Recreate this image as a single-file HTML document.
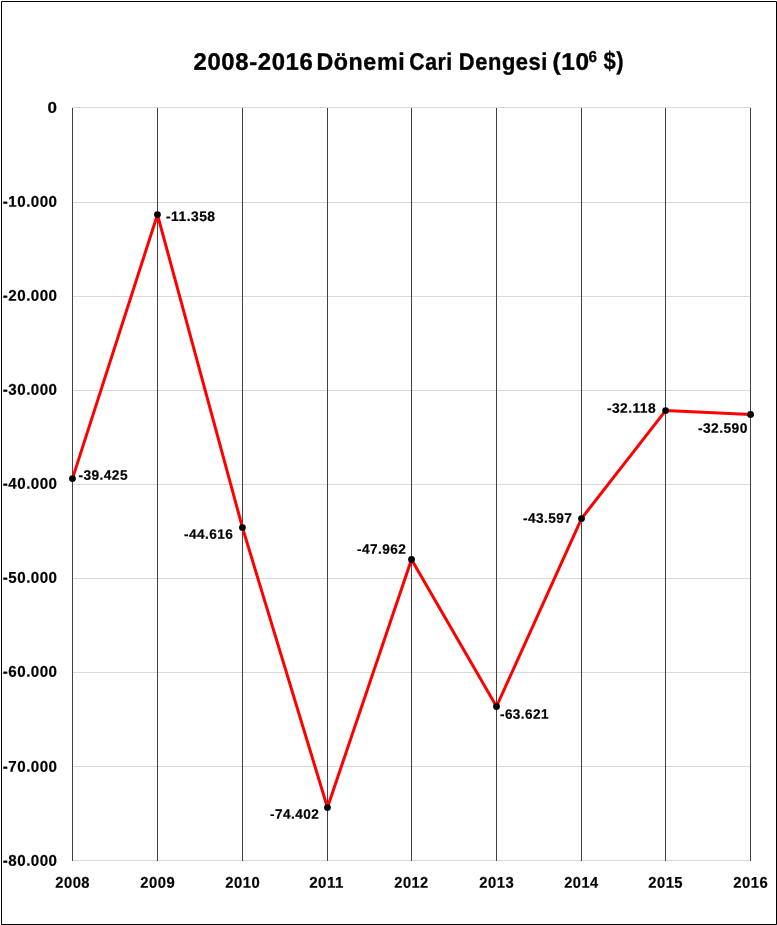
<!DOCTYPE html>
<html lang="tr">
<head>
<meta charset="utf-8">
<title>2008-2016 Dönemi Cari Dengesi</title>
<style>
html,body{margin:0;padding:0;background:#fff;}
body{width:777px;height:925px;overflow:hidden;}
svg{display:block;}
text{font-family:"Liberation Sans",sans-serif;font-weight:bold;fill:#000;stroke:#000;stroke-linejoin:round;}
.ax{font-size:16px;stroke-width:0.2;letter-spacing:0.5px;}
.dl{font-size:14px;stroke-width:0.2;letter-spacing:0.45px;}
.tt{font-size:26px;stroke-width:0.4;letter-spacing:0.7px;}
.ts{font-size:16px;stroke-width:0.3;letter-spacing:0px;}
.tp{font-size:26px;stroke-width:0.3;letter-spacing:0.7px;}
</style>
</head>
<body>
<svg width="777" height="925" viewBox="0 0 777 925">
<rect x="0" y="0" width="777" height="925" fill="#ffffff"/>
<!-- chart frame -->
<rect x="1.5" y="1.5" width="775" height="923" fill="none" stroke="#000000" stroke-width="1" stroke-linejoin="round"/>
<!-- horizontal gridlines -->
<g stroke="#d9d9d9" stroke-width="1" shape-rendering="crispEdges">
<line x1="72" y1="107.5" x2="751" y2="107.5"/>
<line x1="72" y1="202.5" x2="751" y2="202.5"/>
<line x1="72" y1="296.5" x2="751" y2="296.5"/>
<line x1="72" y1="390.5" x2="751" y2="390.5"/>
<line x1="72" y1="484.5" x2="751" y2="484.5"/>
<line x1="72" y1="578.5" x2="751" y2="578.5"/>
<line x1="72" y1="672.5" x2="751" y2="672.5"/>
<line x1="72" y1="766.5" x2="751" y2="766.5"/>
<line x1="72" y1="860.5" x2="751" y2="860.5"/>
</g>
<!-- vertical gridlines -->
<g stroke="#404040" stroke-width="1" shape-rendering="crispEdges">
<line x1="72.5" y1="108" x2="72.5" y2="861"/>
<line x1="157.5" y1="108" x2="157.5" y2="861"/>
<line x1="242.5" y1="108" x2="242.5" y2="861"/>
<line x1="327.5" y1="108" x2="327.5" y2="861"/>
<line x1="411.5" y1="108" x2="411.5" y2="861"/>
<line x1="496.5" y1="108" x2="496.5" y2="861"/>
<line x1="581.5" y1="108" x2="581.5" y2="861"/>
<line x1="665.5" y1="108" x2="665.5" y2="861"/>
<line x1="750.5" y1="108" x2="750.5" y2="861"/>
</g>
<!-- series -->
<polyline points="72.46,478.6 157.46,214.6 242.45,527.55 327.45,807.55 411.5,559.5 496.5,706.5 581.5,518.55 665.6,410.55 750.55,414.5" fill="none" stroke="#ff0000" stroke-width="3" stroke-linejoin="round" stroke-linecap="round"/>
<g fill="#000000">
<circle cx="72.46" cy="478.6" r="3.4"/>
<circle cx="157.46" cy="214.6" r="3.4"/>
<circle cx="242.45" cy="527.55" r="3.4"/>
<circle cx="327.45" cy="807.55" r="3.4"/>
<circle cx="411.5" cy="559.5" r="3.4"/>
<circle cx="496.5" cy="706.5" r="3.4"/>
<circle cx="581.5" cy="518.55" r="3.4"/>
<circle cx="665.6" cy="410.55" r="3.4"/>
<circle cx="750.55" cy="414.5" r="3.4"/>
</g>
<!-- value axis labels -->
<g>
<text class="ax" transform="matrix(1.0639 0.0005 0 0.9715 47.62 112.81)">0</text>
<text class="ax" transform="matrix(0.9466 0.0005 0 0.9715 2.85 206.81)">-10.000</text>
<text class="ax" transform="matrix(0.9466 0.0005 0 0.9715 2.85 300.81)">-20.000</text>
<text class="ax" transform="matrix(0.9466 0.0005 0 0.9715 2.85 394.81)">-30.000</text>
<text class="ax" transform="matrix(0.9466 0.0005 0 0.9715 2.85 488.81)">-40.000</text>
<text class="ax" transform="matrix(0.9466 0.0005 0 0.9715 2.85 582.81)">-50.000</text>
<text class="ax" transform="matrix(0.9466 0.0005 0 0.9715 2.85 676.81)">-60.000</text>
<text class="ax" transform="matrix(0.9466 0.0005 0 0.9715 2.85 771.81)">-70.000</text>
<text class="ax" transform="matrix(0.9466 0.0005 0 0.9715 2.85 865.81)">-80.000</text>
</g>
<!-- category axis labels -->
<g>
<text class="ax" transform="matrix(0.9241 0.0005 0 0.9715 55.27 887.73)">2008</text>
<text class="ax" transform="matrix(0.9273 0.0005 0 0.9715 140.28 887.73)">2009</text>
<text class="ax" transform="matrix(0.9271 0.0005 0 0.9715 225.28 887.73)">2010</text>
<text class="ax" transform="matrix(0.947 0.0005 0 0.9715 309.17 887.73)">2011</text>
<text class="ax" transform="matrix(0.917 0.0005 0 0.9715 394.27 887.73)">2012</text>
<text class="ax" transform="matrix(0.9273 0.0005 0 0.9715 479.27 887.73)">2013</text>
<text class="ax" transform="matrix(0.9147 0.0005 0 0.9715 564.27 887.73)">2014</text>
<text class="ax" transform="matrix(0.9241 0.0005 0 0.9715 648.27 887.73)">2015</text>
<text class="ax" transform="matrix(0.9273 0.0005 0 0.9715 733.27 887.73)">2016</text>
</g>
<!-- data labels -->
<g>
<text class="dl" transform="matrix(0.9772 0.0005 0 0.9753 78.5 479.8)">-39.425</text>
<text class="dl" transform="matrix(0.9923 0.0005 0 0.9753 166.05 221.04)">-11.358</text>
<text class="dl" transform="matrix(0.9746 0.0005 0 0.9753 183.97 538.66)">-44.616</text>
<text class="dl" transform="matrix(0.9721 0.0005 0 0.9753 269.98 818.66)">-74.402</text>
<text class="dl" transform="matrix(0.9721 0.0005 0 0.9753 357.02 553.81)">-47.962</text>
<text class="dl" transform="matrix(0.9671 0.0005 0 0.9753 499.98 718.7)">-63.621</text>
<text class="dl" transform="matrix(0.9772 0.0005 0 0.9753 522.95 522.66)">-43.597</text>
<text class="dl" transform="matrix(0.9871 0.0005 0 0.9753 606.95 412.7)">-32.118</text>
<text class="dl" transform="matrix(0.9848 0.0005 0 0.9753 697.95 432.74)">-32.590</text>
</g>
<!-- chart title -->
<g>
<text class="tt" transform="matrix(0.9182 0.0005 0 0.9178 193.53 69.76)">2008-2016</text>
<text class="tt" transform="matrix(0.8928 0.0005 0 0.9178 316.38 69.76)">Dönemi</text>
<text class="tt" transform="matrix(0.8155 0.0005 0 0.9178 409.3 69.76)">Cari</text>
<text class="tt" transform="matrix(0.8419 0.0005 0 0.9178 458.8 69.76)">Dengesi</text>
<text class="tt" transform="matrix(0.9392 0.0005 0 0.9178 552.45 69.76)">(10</text>
<text class="ts" transform="matrix(0.9535 0.0005 0 0.9894 588.58 61.94)">6</text>
<text class="tp" transform="matrix(0.8501 0.0005 0 0.9588 603.42 69.34)">$)</text>
</g>
</svg>
</body>
</html>
